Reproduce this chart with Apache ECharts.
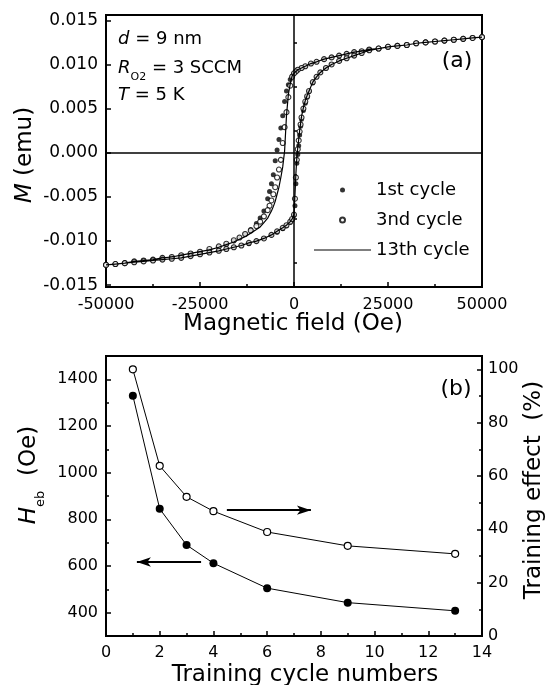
<!DOCTYPE html>
<html>
<head>
<meta charset="utf-8">
<script src="https://cdn.jsdelivr.net/npm/echarts@6/dist/echarts.min.js"></script>
<style>
  html, body { margin: 0; padding: 0; background: #fff; }
  #chart { width: 550px; height: 685px; }
</style>
</head>
<body>
<div id="chart"></div>
<script>
// ---- (a) Hysteresis loops M(H) for training cycles 1, 3 and 13 ----
// Field sweep from +50 kOe down to -50 kOe (descending branch)
const fieldDown = [50000, 47500, 45000, 42500, 40000, 37500, 35000, 32500, 30000, 27500, 25000, 22500,
  20000, 18000, 16000, 14000, 12000, 10000, 8000, 6000, 4500, 3000, 2000, 1000, 500, 0,
  -500, -1000, -1500, -2000, -2500, -3000, -3500, -4000, -4500, -5000, -5500, -6000, -6500, -7000,
  -8000, -9000, -10000, -11500, -13000, -14500, -16000, -18000, -20000,
  -22500, -25000, -27500, -30000, -32500, -35000, -37500, -40000, -42500, -45000, -47500, -50000];
// Field sweep from -50 kOe back up to +50 kOe (ascending branch)
const fieldUp = [-50000, -47500, -45000, -42500, -40000, -37500, -35000, -32500, -30000, -27500, -25000, -22500,
  -20000, -18000, -16000, -14000, -12000, -10000, -8000, -6000, -4500, -3000, -2000, -1000, -500, 0,
  250, 500, 750, 1000, 1250, 1500, 1750, 2000, 2500, 3000, 3500, 4000, 5000, 6000, 7000, 8500,
  10000, 12000, 14000, 16000, 18000, 20000,
  22500, 25000, 27500, 30000, 32500, 35000, 37500, 40000, 42500, 45000, 47500, 50000];

// Magnetic moment (emu), 1st cycle
const m1Down = [0.0131, 0.0130, 0.0129, 0.0128, 0.0127, 0.0126, 0.0125, 0.0124, 0.0122, 0.0121, 0.0120, 0.0118,
  0.0117, 0.0115, 0.0114, 0.0112, 0.0110, 0.0108, 0.0106, 0.0103, 0.0101, 0.0098, 0.0096, 0.0094, 0.0092, 0.0090,
  0.0087, 0.0083, 0.0077, 0.0070, 0.0058, 0.0042, 0.0028, 0.0015, 0.0003, -0.0009, -0.0025, -0.0035, -0.0044, -0.0052,
  -0.0066, -0.0074, -0.0080, -0.0087, -0.0092, -0.0096, -0.0100, -0.0104, -0.0107,
  -0.0110, -0.0112, -0.0114, -0.0116, -0.0118, -0.0119, -0.0121, -0.0122, -0.0123, -0.0125, -0.0126, -0.0127];
const m1Up = [-0.0127, -0.0126, -0.0125, -0.0124, -0.0123, -0.0122, -0.0121, -0.0120, -0.0119, -0.0117, -0.0115, -0.0113,
  -0.0111, -0.0109, -0.0107, -0.0105, -0.0103, -0.0100, -0.0097, -0.0093, -0.0090, -0.0086, -0.0083, -0.0079, -0.0076, -0.0071,
  -0.0060, -0.0035, -0.0012, -0.0002, 0.0008, 0.0020, 0.0030, 0.0038, 0.0048, 0.0056, 0.0063, 0.0069, 0.0079, 0.0086, 0.0091, 0.0096,
  0.0100, 0.0104, 0.0107, 0.0110, 0.0113, 0.0116,
  0.0118, 0.0120, 0.0121, 0.0122, 0.0124, 0.0125, 0.0126, 0.0127, 0.0128, 0.0129, 0.0130, 0.0131];

// 3rd cycle
const m3Down = [0.0131, 0.0130, 0.0129, 0.0128, 0.0127, 0.0126, 0.0125, 0.0124, 0.0122, 0.0121, 0.0120, 0.0118,
  0.0117, 0.0115, 0.0114, 0.0112, 0.0110, 0.0108, 0.0106, 0.0103, 0.0101, 0.0098, 0.0096, 0.0094, 0.0092, 0.0090,
  0.0086, 0.0076, 0.0063, 0.0046, 0.0029, 0.0011, -0.0008, -0.0019, -0.0028, -0.0039, -0.0047, -0.0054, -0.0060, -0.0065,
  -0.0072, -0.0078, -0.0083, -0.0088, -0.0092, -0.0096, -0.0099, -0.0103, -0.0106,
  -0.0109, -0.0112, -0.0114, -0.0116, -0.0118, -0.0119, -0.0121, -0.0122, -0.0123, -0.0125, -0.0126, -0.0127];
const m3Up = [-0.0127, -0.0126, -0.0125, -0.0124, -0.0123, -0.0122, -0.0121, -0.0120, -0.0119, -0.0117, -0.0115, -0.0113,
  -0.0111, -0.0109, -0.0107, -0.0105, -0.0102, -0.0100, -0.0097, -0.0093, -0.0089, -0.0085, -0.0082, -0.0078, -0.0075, -0.0070,
  -0.0052, -0.0028, -0.0008, 0.0004, 0.0014, 0.0024, 0.0032, 0.0040, 0.0050, 0.0058, 0.0064, 0.0070, 0.0080, 0.0086, 0.0091, 0.0096,
  0.0100, 0.0104, 0.0107, 0.0110, 0.0113, 0.0116,
  0.0118, 0.0120, 0.0121, 0.0122, 0.0124, 0.0125, 0.0126, 0.0127, 0.0128, 0.0129, 0.0130, 0.0131];

// 13th cycle
const m13Down = [0.0131, 0.0130, 0.0129, 0.0128, 0.0127, 0.0126, 0.0125, 0.0124, 0.0122, 0.0121, 0.0120, 0.0118,
  0.0117, 0.0115, 0.0114, 0.0112, 0.0110, 0.0108, 0.0106, 0.0103, 0.0101, 0.0098, 0.0096, 0.0094, 0.0092, 0.0090,
  0.0087, 0.0078, 0.0066, 0.0042, 0.0002, -0.0016, -0.0028, -0.0039, -0.0047, -0.0055, -0.0061, -0.0066, -0.0070, -0.0074,
  -0.0079, -0.0084, -0.0087, -0.0091, -0.0095, -0.0098, -0.0101, -0.0104, -0.0107,
  -0.0110, -0.0112, -0.0114, -0.0116, -0.0118, -0.0119, -0.0121, -0.0122, -0.0123, -0.0125, -0.0126, -0.0127];
const m13Up = [-0.0127, -0.0126, -0.0125, -0.0124, -0.0123, -0.0122, -0.0121, -0.0120, -0.0119, -0.0117, -0.0115, -0.0113,
  -0.0111, -0.0109, -0.0107, -0.0105, -0.0102, -0.0100, -0.0097, -0.0093, -0.0089, -0.0085, -0.0082, -0.0078, -0.0075, -0.0070,
  -0.0048, -0.0024, -0.0006, 0.0006, 0.0015, 0.0025, 0.0033, 0.0041, 0.0051, 0.0059, 0.0065, 0.0070, 0.0080, 0.0086, 0.0091, 0.0096,
  0.0100, 0.0104, 0.0107, 0.0110, 0.0113, 0.0116,
  0.0118, 0.0120, 0.0121, 0.0122, 0.0124, 0.0125, 0.0126, 0.0127, 0.0128, 0.0129, 0.0130, 0.0131];

const mTicks = [-0.015, -0.010, -0.005, 0, 0.005, 0.010, 0.015];
const mMinorTicks = [-0.0125, -0.0075, -0.0025, 0.0025, 0.0075, 0.0125];

// ---- (b) Exchange bias field and training effect vs cycle number ----
const cycles = [1, 2, 3, 4, 6, 9, 13];
const hebValues = [1330, 845, 690, 612, 505, 443, 408];          // Oe
const trainingEffect = [100, 63.8, 52.2, 46.8, 39.0, 33.8, 30.8]; // %
const hebTicks = [400, 600, 800, 1000, 1200, 1400];
const hebMinorTicks = [500, 700, 900, 1100, 1300];
const effectTicks = [0, 20, 40, 60, 80, 100];
const effectMinorTicks = [10, 30, 50, 70, 90];
// Arrows telling which axis each curve belongs to
const arrowToHeb = [[3.54, 617], [1.15, 617]];
const arrowToEffect = [[4.5, 47.2], [7.63, 47.2]];

const FONT = 'DejaVu Sans';

function loop(down, up) {
  return fieldDown.map((h, i) => [h, down[i]]).concat(fieldUp.map((h, i) => [h, up[i]]));
}

const frameLine = { lineStyle: { color: '#000', width: 2 } };
const tickStyle = { color: '#000', width: 1.5 };

function mainY(gridIndex, position, min, max, ticks, fmt, fontSize, margin) {
  return {
    gridIndex, position, type: 'value', min, max,
    axisLine: { show: true, onZero: false, ...frameLine },
    axisTick: { show: true, inside: true, length: 5, lineStyle: tickStyle, customValues: ticks },
    axisLabel: { show: true, color: '#000', fontFamily: FONT, fontSize, margin, customValues: ticks, formatter: fmt },
    splitLine: { show: false }
  };
}
function minorY(gridIndex, position, min, max, ticks) {
  return {
    gridIndex, position, type: 'value', min, max,
    axisLine: { show: false },
    axisTick: { show: true, inside: true, length: 3, lineStyle: tickStyle, customValues: ticks },
    axisLabel: { show: false },
    splitLine: { show: false }
  };
}
function xAxisDef(gridIndex, min, max, interval, margin) {
  return {
    gridIndex, type: 'value', min, max, interval,
    axisLine: { show: true, onZero: false, ...frameLine },
    axisTick: { show: true, inside: true, length: 5, lineStyle: tickStyle },
    minorTick: { show: true, splitNumber: 2, length: 3, lineStyle: tickStyle },
    axisLabel: { color: '#000', fontFamily: FONT, fontSize: 16, margin, formatter: (v) => String(v) },
    splitLine: { show: false },
    minorSplitLine: { show: false }
  };
}

function label(x, y, text, size, rich, rotation, align) {
  const el = {
    type: 'text', x, y, rotation: rotation || 0, silent: true,
    style: {
      text, fill: '#000', fontFamily: FONT, fontSize: size,
      align: align || 'center', textAlign: align || 'center',
      verticalAlign: 'middle', textVerticalAlign: 'middle'
    }
  };
  if (rich) el.style.rich = rich;
  return el;
}
const it = (s) => ({ fontFamily: FONT, fontSize: s, fontStyle: 'italic', fill: '#000', color: '#000' });
const up = (s, lh) => ({ fontFamily: FONT, fontSize: s, lineHeight: lh, fill: '#000', color: '#000' });
const sub = (s) => ({ fontFamily: FONT, fontSize: s, lineHeight: s, verticalAlign: 'bottom', fill: '#000', color: '#000' });

const chart = echarts.init(document.getElementById('chart'), null, { renderer: 'canvas' });

chart.setOption({
  animation: false,
  backgroundColor: '#fff',
  textStyle: { fontFamily: FONT },
  grid: [
    { left: 106, top: 15, width: 376, height: 272, show: true, borderColor: '#000', borderWidth: 2, backgroundColor: 'transparent', containLabel: false, outerBoundsMode: 'none' },
    { left: 106, top: 356, width: 376, height: 280, show: true, borderColor: '#000', borderWidth: 2, backgroundColor: 'transparent', containLabel: false, outerBoundsMode: 'none' }
  ],
  xAxis: [
    xAxisDef(0, -50000, 50000, 25000, 10),
    xAxisDef(1, 0, 14, 2, 9)
  ],
  yAxis: [
    mainY(0, 'left', -0.0152, 0.0156, mTicks, (v) => v.toFixed(3), 17, 8),
    minorY(0, 'left', -0.0152, 0.0156, mMinorTicks),
    mainY(1, 'left', 300, 1500, hebTicks, (v) => String(Math.round(v)), 16, 8),
    mainY(1, 'right', 0, 105, effectTicks, (v) => String(Math.round(v)), 16, 6),
    minorY(1, 'left', 300, 1500, hebMinorTicks),
    minorY(1, 'right', 0, 105, effectMinorTicks)
  ],
  legend: {
    orient: 'vertical', left: 309, top: 176,
    itemWidth: 57, itemHeight: 5, itemGap: 12,
    selectedMode: false,
    textStyle: { fontFamily: FONT, fontSize: 18, color: '#000' },
    data: [
      { name: '1st cycle', icon: 'circle' },
      { name: '3nd cycle', icon: 'circle' },
      { name: '13th cycle', icon: 'path://M0,0H56V1H0Z' }
    ]
  },
  series: [
    {
      name: '1st cycle', type: 'scatter', xAxisIndex: 0, yAxisIndex: 0,
      data: loop(m1Down, m1Up), symbol: 'circle', symbolSize: 5,
      color: '#000', itemStyle: { color: '#000' }, z: 2
    },
    {
      name: '3nd cycle', type: 'scatter', xAxisIndex: 0, yAxisIndex: 0,
      data: loop(m3Down, m3Up), symbol: 'circle', symbolSize: 5,
      color: '#000', itemStyle: { color: '#fff', borderColor: '#000', borderWidth: 1.1 }, z: 3
    },
    {
      name: '13th cycle', type: 'line', xAxisIndex: 0, yAxisIndex: 0,
      data: loop(m13Down, m13Up), showSymbol: false, symbol: 'none',
      color: '#000', itemStyle: { color: '#000' },
      lineStyle: { color: '#000', width: 1.2 }, z: 4,
      markLine: {
        silent: true, symbol: ['none', 'none'], animation: false,
        label: { show: false },
        lineStyle: { color: '#000', width: 1.5, type: 'solid' },
        data: [{ xAxis: 0 }, { yAxis: 0 }]
      }
    },
    {
      name: 'Heb', type: 'line', xAxisIndex: 1, yAxisIndex: 2,
      data: cycles.map((c, i) => [c, hebValues[i]]),
      symbol: 'circle', symbolSize: 8, showAllSymbol: true,
      color: '#000', itemStyle: { color: '#000' },
      lineStyle: { color: '#000', width: 1 }, z: 3,
      markLine: {
        silent: true, symbol: ['none', 'arrow'], symbolSize: [7, 14], animation: false,
        label: { show: false },
        lineStyle: { color: '#000', width: 1.8, type: 'solid' },
        data: [[{ coord: arrowToHeb[0] }, { coord: arrowToHeb[1] }]]
      }
    },
    {
      name: 'Training effect', type: 'line', xAxisIndex: 1, yAxisIndex: 3,
      data: cycles.map((c, i) => [c, trainingEffect[i]]),
      symbol: 'circle', symbolSize: 7, showAllSymbol: true,
      color: '#000', itemStyle: { color: '#fff', borderColor: '#000', borderWidth: 1.2 },
      lineStyle: { color: '#000', width: 1 }, z: 3,
      markLine: {
        silent: true, symbol: ['none', 'arrow'], symbolSize: [7, 14], animation: false,
        label: { show: false },
        lineStyle: { color: '#000', width: 1.8, type: 'solid' },
        data: [[{ coord: arrowToEffect[0] }, { coord: arrowToEffect[1] }]]
      }
    }
  ],
  graphic: [
    // sample parameters, panel (a)
    label(118, 39, '{i|d}{n| = 9 nm}', 18, { i: it(18), n: up(18, 22) }, 0, 'left'),
    label(118, 68, '{i|R}{s|O2}{n| = 3 SCCM}', 18, { i: Object.assign(it(18), { lineHeight: 30 }), s: sub(11), n: up(18, 30) }, 0, 'left'),
    label(118, 95, '{i|T}{n| = 5 K}', 18, { i: it(18), n: up(18, 22) }, 0, 'left'),
    label(457, 61, '(a)', 22),
    label(456, 389, '(b)', 22),
    // axis titles
    label(293, 324, 'Magnetic field (Oe)', 23),
    label(305, 675, 'Training cycle numbers', 23),
    label(25, 155, '{i|M}{n| (emu)}', 23, { i: it(23), n: up(23, 28) }, Math.PI / 2),
    label(29, 475, '{i|H}{s|eb}{n|  (Oe)}', 23, { i: Object.assign(it(23), { lineHeight: 36 }), s: sub(13), n: up(23, 36) }, Math.PI / 2),
    label(534, 490, 'Training effect  (%)', 23, null, Math.PI / 2)
  ]
});
</script>
</body>
</html>
